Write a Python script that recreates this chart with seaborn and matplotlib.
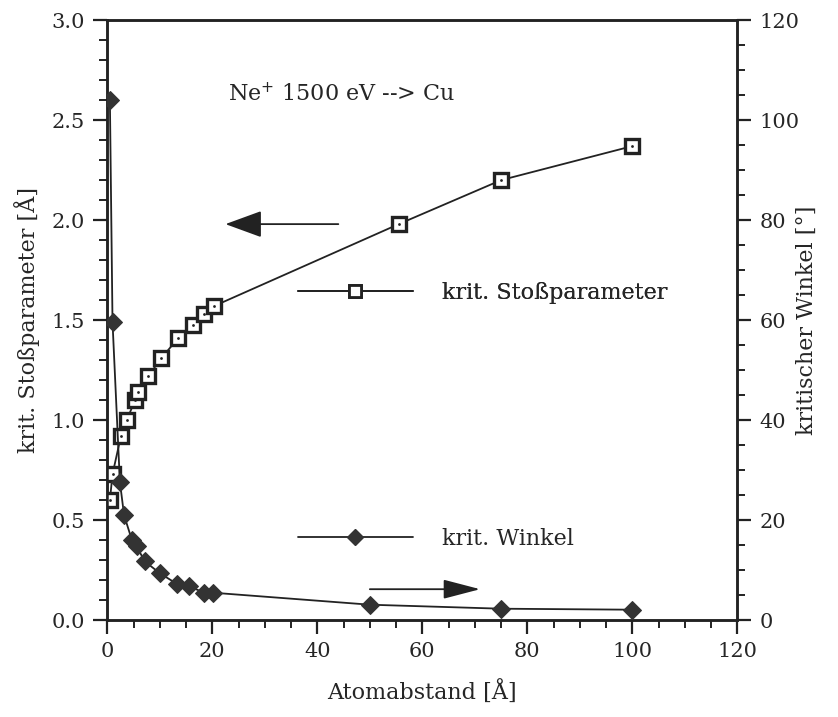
import numpy as np
import pandas as pd
import matplotlib
matplotlib.use("Agg")
import matplotlib.pyplot as plt
from matplotlib.ticker import MultipleLocator
from matplotlib.lines import Line2D
import seaborn as sns

# values
x_stoss = [0.5, 1.0, 2.6, 3.7, 5.3, 5.9, 7.8, 10.3, 13.5, 16.4, 18.5, 20.3, 55.5, 75, 100]
stoss = [0.60, 0.73, 0.92, 1.00, 1.10, 1.14, 1.22, 1.31, 1.41, 1.475, 1.53, 1.57, 1.98, 2.20, 2.37]

x_winkel = [0.5, 1.0, 2.4, 3.2, 4.7, 5.6, 7.1, 10.0, 13.2, 15.6, 18.5, 20.1, 50, 75, 100]
winkel = [104, 59.6, 27.7, 21.0, 16.0, 14.8, 11.8, 9.4, 7.3, 6.75, 5.5, 5.5, 3.1, 2.3, 2.1]

df_s = pd.DataFrame({"x": x_stoss, "y": stoss})
df_w = pd.DataFrame({"x": x_winkel, "y": winkel})

sns.set_style("ticks")
plt.rcParams["font.family"] = ["DejaVu Serif"]
plt.rcParams["font.size"] = 15
dark = "#222222"

fig = plt.figure(figsize=(8.38, 7.17), dpi=100)
ax = fig.add_axes([0.128, 0.135, 0.752, 0.837])
ax2 = ax.twinx()

sns.lineplot(data=df_s, x="x", y="y", ax=ax, color=dark, lw=1.3, estimator=None,
             marker="s", markersize=9.5, markerfacecolor="white",
             markeredgecolor=dark, markeredgewidth=2.4, zorder=3)
sns.scatterplot(data=df_s, x="x", y="y", ax=ax, color=dark, s=4, linewidth=0, zorder=4)

sns.lineplot(data=df_w, x="x", y="y", ax=ax2, color=dark, lw=1.3, estimator=None,
             marker="D", markersize=9, markerfacecolor="#333333",
             markeredgecolor="#333333", zorder=3)

ax.set_xlim(0, 120)
ax.set_ylim(0, 3.0)
ax2.set_ylim(0, 120)

ax.xaxis.set_major_locator(MultipleLocator(20))
ax.xaxis.set_minor_locator(MultipleLocator(5))
ax.yaxis.set_major_locator(MultipleLocator(0.5))
ax.yaxis.set_minor_locator(MultipleLocator(0.1))
ax2.yaxis.set_major_locator(MultipleLocator(20))
ax2.yaxis.set_minor_locator(MultipleLocator(5))

for a in (ax, ax2):
    for sp in a.spines.values():
        sp.set_visible(True)
        sp.set_linewidth(1.8)
        sp.set_color(dark)
    a.tick_params(which="major", length=10, width=1.6, color=dark, labelsize=15, pad=6)
    a.tick_params(which="minor", length=6, width=1.4, color=dark)
ax.tick_params(axis="x", which="both", direction="out", top=False)
ax.tick_params(axis="y", which="both", direction="out", right=False)
ax2.tick_params(axis="y", which="both", direction="out", left=False)

ax.set_xlabel("Atomabstand [Å]", fontsize=16, labelpad=14)
ax.set_ylabel("krit. Stoßparameter [Å]", fontsize=16, labelpad=8)
ax2.set_ylabel("kritischer Winkel [°]", fontsize=16, labelpad=-3)

ax.text(23, 2.63, "Ne$^{+}$ 1500 eV --> Cu", fontsize=16, va="center", ha="left")

ax.annotate("", xy=(22.5, 1.98), xytext=(44, 1.98),
            arrowprops=dict(arrowstyle="-|>,head_length=1.15,head_width=0.42",
                            color=dark, lw=1.3, mutation_scale=20, shrinkA=0, shrinkB=0))
ax.annotate("", xy=(71, 0.155), xytext=(50, 0.155),
            arrowprops=dict(arrowstyle="-|>,head_length=1.15,head_width=0.3",
                            color=dark, lw=1.3, mutation_scale=20, shrinkA=0, shrinkB=0))

h_s = Line2D([], [], color=dark, lw=1.3, marker="s", markersize=8,
             markerfacecolor="white", markeredgecolor=dark, markeredgewidth=2)
h_w = Line2D([], [], color=dark, lw=1.3, marker="D", markersize=8,
             markerfacecolor="#333333", markeredgecolor="#333333")

leg1 = ax.legend([h_s], ["krit. Stoßparameter"], loc="center left",
                 bbox_to_anchor=(0.288, 0.545), frameon=False, handlelength=5.2,
                 handletextpad=1.3, fontsize=16, borderaxespad=0)
ax.add_artist(leg1)
ax2.legend([h_w], ["krit. Winkel"], loc="center left",
           bbox_to_anchor=(0.288, 0.136), frameon=False, handlelength=5.2,
           handletextpad=1.3, fontsize=16, borderaxespad=0)

fig.savefig("out.png", dpi=100)
